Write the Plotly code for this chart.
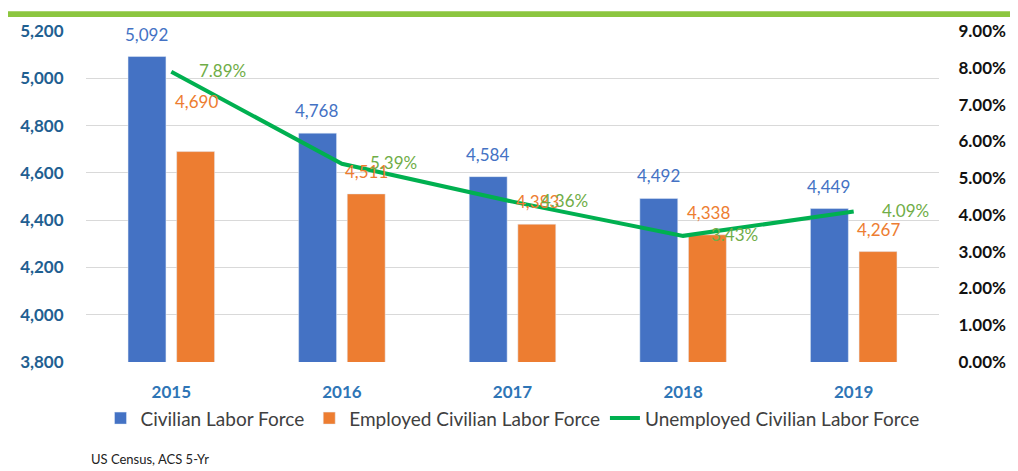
import plotly.graph_objects as go

years = ["2015", "2016", "2017", "2018", "2019"]
civilian_labor_force = [5092, 4768, 4584, 4492, 4449]
employed_labor_force = [4690, 4511, 4383, 4338, 4267]
unemployed_rate = [0.0789, 0.0539, 0.0436, 0.0343, 0.0409]

BLUE = "#4472C4"
ORANGE = "#ED7D31"
GREEN_LINE = "#00B050"
GREEN_TEXT = "#70AD47"
FONT = "Lato"

fig = go.Figure()
fig.add_trace(go.Bar(x=years, y=civilian_labor_force, name="Civilian Labor Force",
                     marker_color=BLUE, yaxis="y"))
fig.add_trace(go.Bar(x=years, y=employed_labor_force, name="Employed Civilian Labor Force",
                     marker_color=ORANGE, yaxis="y"))
fig.add_trace(go.Scatter(x=years, y=unemployed_rate, name="Unemployed Civilian Labor Force",
                         mode="lines", line=dict(color=GREEN_LINE, width=4), yaxis="y2"))

ann = []
orange_extra = {"2015": 28}
for i, (yr, v) in enumerate(zip(years, civilian_labor_force)):
    ann.append(dict(x=i, y=v, xref="x", yref="y", text=f"{v:,}", showarrow=False,
                    xshift=-25, yanchor="bottom", yshift=10,
                    font=dict(family=FONT, size=17, color=BLUE)))
for i, (yr, v) in enumerate(zip(years, employed_labor_force)):
    ann.append(dict(x=i, y=v, xref="x", yref="y", text=f"{v:,}", showarrow=False,
                    xshift=25, yanchor="bottom", yshift=10 + orange_extra.get(yr, 0),
                    font=dict(family=FONT, size=17, color=ORANGE)))
for i, (yr, v) in enumerate(zip(years, unemployed_rate)):
    ann.append(dict(x=i, y=v, xref="x", yref="y2", text=f"{v*100:.2f}%", showarrow=False,
                    xanchor="left", xshift=26, yshift=1,
                    font=dict(family=FONT, size=17, color=GREEN_TEXT)))
ann.append(dict(x=0.003, y=-0.293, xref="paper", yref="paper", text="US Census, ACS 5-Yr",
                showarrow=False, xanchor="left", yanchor="middle",
                font=dict(family=FONT, size=13, color="#222222")))

fig.update_layout(
    width=1010, height=463,
    margin=dict(l=73, r=75, t=19, b=109),
    paper_bgcolor="white", plot_bgcolor="white",
    barmode="group", bargap=0.43, bargroupgap=0.22,
    font=dict(family=FONT),
    xaxis=dict(type="category", range=[-0.5, 4.5], showgrid=False, showline=False,
               ticks="outside", ticklen=15, tickcolor="rgba(0,0,0,0)",
               tickfont=dict(family=FONT, size=17, color="#2E75B6", weight="bold")),
    yaxis=dict(range=[3800, 5200], dtick=200, tickformat=",", showgrid=True,
               gridcolor="#D9D9D9", gridwidth=1, zeroline=False, showline=False,
               ticks="outside", ticklen=18, tickcolor="rgba(0,0,0,0)",
               tickfont=dict(family=FONT, size=17, color="#1F6091", weight="bold")),
    yaxis2=dict(range=[0, 0.09], dtick=0.01, tickformat=".2%", overlaying="y", side="right",
                showgrid=False, zeroline=False, showline=False,
                ticks="outside", ticklen=15, tickcolor="rgba(0,0,0,0)",
                tickfont=dict(family=FONT, size=17, color="#111111", weight="bold")),
    legend=dict(orientation="h", x=0.5, xanchor="center", y=-0.17, yanchor="middle",
                font=dict(family=FONT, size=19, color="#404040"), traceorder="normal"),
    annotations=ann,
    shapes=[dict(type="rect", xref="paper", yref="paper", x0=-0.1, x1=1.1,
                 y0=1.042, y1=1.06, line=dict(width=0), fillcolor="#8CC63F")],
)

fig.write_html("out.html")
